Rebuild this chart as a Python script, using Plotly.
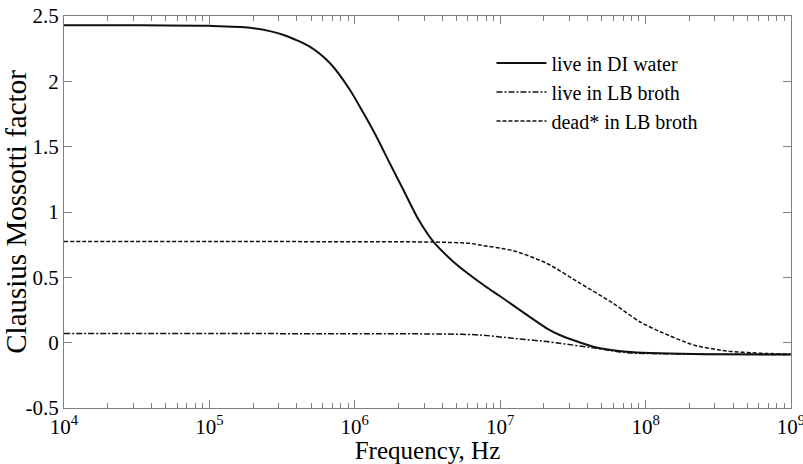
import plotly.graph_objects as go

# Data
freq_di = [1e4, 3.16e4, 1e5, 1.9e5, 3.24e5, 4.9e5, 6.76e5, 9.27e5, 1.15e6, 1.41e6, 1.74e6,
           2.16e6, 2.75e6, 3.47e6, 4.76e6, 6.19e6, 7.94e6, 1e7, 2.09e7,
           2.57e7, 4.37e7, 7.41e7, 2.14e8, 1e9]
cm_di = [2.43, 2.43, 2.425, 2.41, 2.355, 2.265, 2.138, 1.934, 1.755, 1.576, 1.373,
         1.168, 0.94, 0.773, 0.62, 0.518, 0.43, 0.355, 0.11,
         0.059, -0.031, -0.069, -0.087, -0.09]

freq_lb = [1e4, 1e5, 1e6, 4.3e6, 7.2e6, 1.23e7, 2.1e7, 2.57e7, 4.6e7, 7.4e7, 2e8, 1e9]
cm_lb = [0.07, 0.07, 0.068, 0.066, 0.059, 0.033, 0.008, -0.005, -0.043, -0.077, -0.087, -0.09]

freq_dead = [1e4, 1e5, 1e6, 3.47e6, 6.19e6, 7.24e6, 1.23e7, 2.09e7, 3.55e7, 6.0e7,
             9.12e7, 1.26e8, 2.14e8, 3.63e8, 6.17e8, 1e9]
cm_dead = [0.775, 0.775, 0.772, 0.77, 0.76, 0.747, 0.704, 0.607, 0.454, 0.30,
           0.16, 0.084, -0.018, -0.064, -0.081, -0.088]

x_ticks = [1e4, 1e5, 1e6, 1e7, 1e8, 1e9]
x_ticktext = ["10<sup>4</sup>", "10<sup>5</sup>", "10<sup>6</sup>", "10<sup>7</sup>",
              "10<sup>8</sup>", "10<sup>9</sup>"]
x_minor = [m * d for d in [1e4, 1e5, 1e6, 1e7, 1e8] for m in range(2, 10)]
y_ticks = [-0.5, 0, 0.5, 1, 1.5, 2, 2.5]
y_ticktext = ["-0.5", "0", "0.5", "1", "1.5", "2", "2.5"]

font_family = "Liberation Serif, Times New Roman, serif"
axis_grey = "#808080"

fig = go.Figure()
fig.add_trace(go.Scatter(x=freq_di, y=cm_di, mode="lines", name="live in DI water",
                         line=dict(color="#111111", width=2, shape="spline", smoothing=0.7),
                         legendgroup="a"))
fig.add_trace(go.Scatter(x=freq_lb, y=cm_lb, mode="lines", name="live in LB broth",
                         line=dict(color="#111111", width=1.5, dash="6px,2px,2px,2px",
                                   shape="spline", smoothing=0.7),
                         legendgroup="b"))
fig.add_trace(go.Scatter(x=freq_dead, y=cm_dead, mode="lines", name="dead* in LB broth",
                         line=dict(color="#111111", width=1.5, dash="4px,2px",
                                   shape="spline", smoothing=0.7),
                         legendgroup="c"))

fig.update_layout(
    width=803, height=464,
    margin=dict(l=64, r=12, t=16, b=56),
    paper_bgcolor="white", plot_bgcolor="white",
    font=dict(family=font_family, color="black", size=20),
    showlegend=True,
    legend=dict(x=0.588, y=0.93, xanchor="left", yanchor="top",
                bgcolor="rgba(0,0,0,0)", font=dict(size=20, family=font_family),
                tracegroupgap=0, itemwidth=50),
    xaxis=dict(
        type="log", range=[4, 9.0002], tickvals=x_ticks, ticktext=x_ticktext,
        ticks="inside", ticklen=8, tickwidth=1, tickcolor=axis_grey, ticklabeloverflow="allow",
        showline=True, linecolor=axis_grey, linewidth=1, mirror="ticks",
        showgrid=False, zeroline=False, automargin=False,
        minor=dict(tickvals=x_minor, ticks="inside", ticklen=5, tickwidth=1,
                   tickcolor=axis_grey, showgrid=False),
        tickfont=dict(size=21, family=font_family),
        title=dict(text="Frequency, Hz", font=dict(size=25, family=font_family)),
    ),
    yaxis=dict(
        range=[-0.5, 2.5], tickvals=y_ticks, ticktext=y_ticktext,
        ticks="inside", ticklen=8, tickwidth=1, tickcolor=axis_grey,
        showline=True, linecolor=axis_grey, linewidth=1, mirror="ticks",
        showgrid=False, zeroline=False, automargin=False,
        tickfont=dict(size=21, family=font_family),
        title=dict(text="Clausius Mossotti factor", font=dict(size=29, family=font_family)),
    ),
)

fig.write_html("out.html")
